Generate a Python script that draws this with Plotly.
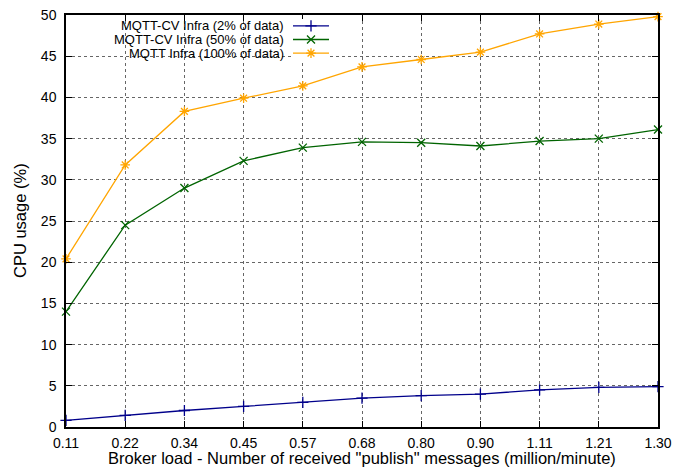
import plotly.graph_objects as go

categories = ["0.11", "0.22", "0.34", "0.45", "0.57", "0.68", "0.80", "0.90", "1.11", "1.21", "1.30"]
cv2 = [0.8, 1.4, 2.0, 2.5, 3.0, 3.5, 3.8, 4.0, 4.5, 4.8, 4.9]
cv50 = [14.0, 24.5, 29.0, 32.3, 33.9, 34.6, 34.5, 34.1, 34.7, 35.0, 36.1]
full = [20.4, 31.8, 38.3, 39.9, 41.4, 43.7, 44.6, 45.5, 47.7, 48.9, 49.8]
names = ["MQTT-CV Infra (2% of data)", "MQTT-CV Infra (50% of data)", "MQTT Infra (100% of data)"]
colors = ["#00008b", "#006400", "#ffa500"]
symbols = ["cross-thin-open", "x-thin-open", "asterisk-open"]
series = [cv2, cv50, full]
x_title = 'Broker load - Number of received "publish" messages (million/minute)'
y_title = "CPU usage (%)"

W, H = 676, 468
L, R, T, B = 66, 18, 15, 41
pw, ph = W - L - R, H - T - B

def px(xp):
    return (xp - L) / pw

def py(yp):
    return (H - B - yp) / ph

FONT = "Liberation Sans, Arial, sans-serif"
fig = go.Figure()
for vals, name, c, s in zip(series, names, colors, symbols):
    fig.add_trace(go.Scatter(
        x=categories, y=vals, mode="lines+markers", name=name,
        line=dict(color=c, width=1.3),
        marker=dict(symbol=s, size=8, color=c, line=dict(color=c, width=1.3)),
        showlegend=False, cliponaxis=False))

# custom gnuplot-style legend (text left, sample right)
rows = [25.5, 39.5, 53.5]
for i, (name, c, s) in enumerate(zip(names, colors, symbols)):
    fig.add_annotation(x=px(285), y=py(rows[i]), xref="paper", yref="paper",
                       text=name, showarrow=False, xanchor="right", yanchor="middle",
                       borderpad=0, font=dict(family=FONT, size=13, color="black"))
    fig.add_trace(go.Scatter(
        x=[0, 0.5, 1], y=[-i, -i, -i], xaxis="x2", yaxis="y2",
        mode="lines", line=dict(color=c, width=1.3), showlegend=False, hoverinfo="skip"))
    fig.add_trace(go.Scatter(
        x=[0.5], y=[-i], xaxis="x2", yaxis="y2", mode="markers",
        marker=dict(symbol=s, size=8, color=c, line=dict(color=c, width=1.3)),
        showlegend=False, hoverinfo="skip", cliponaxis=False))

# axis titles
fig.add_annotation(x=0.5, y=py(458), xref="paper", yref="paper", text=x_title,
                   showarrow=False, xanchor="center", yanchor="middle",
                   font=dict(family=FONT, size=16.5, color="black"))
fig.add_annotation(x=px(20), y=0.5, xref="paper", yref="paper", text=y_title,
                   showarrow=False, xanchor="center", yanchor="middle", textangle=-90,
                   font=dict(family=FONT, size=16.5, color="black"))

# white backdrop behind legend hiding grid
fig.add_shape(type="rect", xref="paper", yref="paper", layer="below",
              x0=px(118), x1=px(336), y0=py(61), y1=py(17),
              fillcolor="white", line=dict(width=0))

axis_common = dict(showline=True, mirror="allticks", linecolor="black", linewidth=1.5,
                   ticks="inside", ticklen=6, tickcolor="black", tickwidth=1,
                   showgrid=True, gridcolor="#666666", griddash="dot", gridwidth=1,
                   zeroline=False, automargin=False,
                   tickfont=dict(family=FONT, size=14, color="black"))

fig.update_layout(
    width=W, height=H,
    margin=dict(l=L, r=R, t=T, b=B, autoexpand=False),
    plot_bgcolor="white", paper_bgcolor="white",
    xaxis=dict(type="category", range=[0, len(categories) - 1], ticklabelstandoff=2,
               **axis_common),
    yaxis=dict(range=[0, 50], dtick=5, ticklabelstandoff=5, **axis_common),
    xaxis2=dict(domain=[px(293), px(329)], range=[0, 1], visible=False, anchor="y2",
                fixedrange=True),
    yaxis2=dict(domain=[py(60), py(19)], range=[-2.5, 0.5], visible=False, anchor="x2",
                fixedrange=True),
)

fig.write_html("out.html", config={"displayModeBar": False},
               post_script="document.body.style.margin='0';document.body.style.overflow='hidden';")
